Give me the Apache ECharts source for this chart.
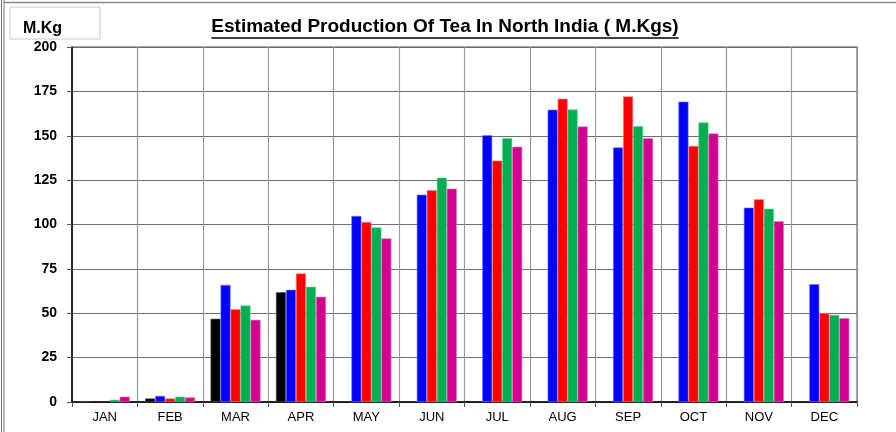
<!DOCTYPE html>
<html>
<head>
<meta charset="utf-8">
<script src="https://cdn.jsdelivr.net/npm/echarts@6/dist/echarts.min.js"></script>
<style>
html,body{margin:0;padding:0;background:#fff;}
#chart{width:896px;height:432px;}
</style>
</head>
<body>
<div id="chart"></div>
<script>
const months = ['JAN','FEB','MAR','APR','MAY','JUN','JUL','AUG','SEP','OCT','NOV','DEC'];
const yTicks = [0,25,50,75,100,125,150,175,200];
const seriesBlack   = [0.5, 2.0, 46.9, 61.9, null, null, null, null, null, null, null, null];
const seriesBlue    = [null, 3.4, 66.0, 63.2, 104.8, 116.8, 150.3, 164.7, 143.4, 169.2, 109.5, 66.4];
const seriesRed     = [null, 2.0, 52.3, 72.4, 101.4, 119.3, 136.0, 170.9, 172.2, 144.3, 114.2, 50.1];
const seriesGreen   = [1.3, 3.0, 54.4, 64.9, 98.4, 126.4, 148.6, 164.8, 155.4, 157.5, 108.9, 49.1];
const seriesMagenta = [3.0, 2.6, 46.3, 59.3, 92.2, 120.2, 143.8, 155.2, 148.6, 151.3, 101.8, 47.2];
const titleText = 'Estimated Production Of Tea In North India ( M.Kgs)';
const unitText = 'M.Kg';

const colors = ['#000000','#0000ff','#ff0000','#00b050','#d4008f'];
const borders = ['#555555','#7777ff','#ff8888','#66cc99','#e877c0'];
const data = [seriesBlack, seriesBlue, seriesRed, seriesGreen, seriesMagenta];

const titleFont = 'bold 19px "Liberation Sans", Arial, sans-serif';
const cv = document.createElement('canvas').getContext('2d');
cv.font = titleFont;
const tw = cv.measureText(titleText).width;
const tcx = 445;

const chart = echarts.init(document.getElementById('chart'), null, {renderer:'canvas'});
chart.setOption({
  animation:false,
  backgroundColor:'#fff',
  grid:{left:72,right:39,top:47,bottom:30,show:true,borderColor:'#8a8a8a',borderWidth:1.5},
  xAxis:{
    type:'category', data:months,
    axisLine:{lineStyle:{color:'#000',width:1.5}},
    axisTick:{show:true,length:5,lineStyle:{color:'#555'}},
    axisLabel:{color:'#000',fontFamily:'"Liberation Sans", Arial, sans-serif',fontSize:13,margin:9},
    splitLine:{show:true,lineStyle:{color:'#9a9a9a',width:1.2}}
  },
  yAxis:{
    type:'value', min:yTicks[0], max:yTicks[yTicks.length-1], interval:25,
    axisLine:{show:true,lineStyle:{color:'#000',width:1.5}},
    axisTick:{show:true,length:5,lineStyle:{color:'#555'}},
    axisLabel:{color:'#000',fontFamily:'"Liberation Sans", Arial, sans-serif',fontSize:14,fontWeight:'bold',margin:15},
    splitLine:{show:true,lineStyle:{color:'#6e6e6e',width:1.2}}
  },
  series: data.map((d,i)=>({
    type:'bar', data:d, barWidth:10, barGap:'0%',
    itemStyle:{color:colors[i],borderColor:borders[i],borderWidth:0.6}
  })),
  graphic:[
    {type:'line',shape:{x1:1.5,y1:0,x2:1.5,y2:432},style:{stroke:'#777',lineWidth:1}},
    {type:'line',shape:{x1:4,y1:0,x2:4,y2:432},style:{stroke:'#777',lineWidth:1}},
    {type:'line',shape:{x1:4,y1:2.5,x2:896,y2:2.5},style:{stroke:'#888',lineWidth:1.5}},
    {type:'rect',shape:{x:10,y:7,width:90,height:32},style:{fill:'#fff',stroke:'#c8c8c8',lineWidth:1}},
    {type:'text',x:23,y:29,style:{text:unitText,font:'bold 16px "Liberation Sans", Arial, sans-serif',fill:'#000',textVerticalAlign:'middle'}},
    {type:'text',x:tcx,y:27,style:{text:titleText,font:titleFont,fill:'#000',textAlign:'center',textVerticalAlign:'middle'}},
    {type:'line',shape:{x1:tcx-tw/2,y1:38,x2:tcx+tw/2,y2:38},style:{stroke:'#000',lineWidth:1.5}}
  ]
});
</script>
</body>
</html>
